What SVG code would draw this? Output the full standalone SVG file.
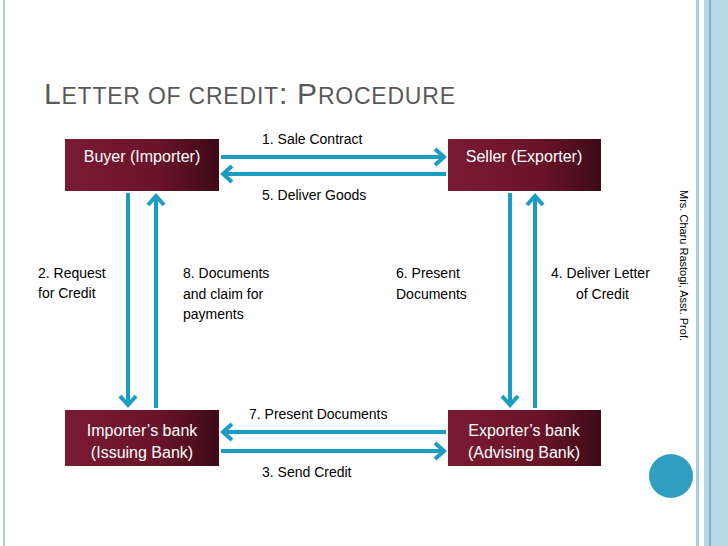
<svg xmlns="http://www.w3.org/2000/svg" width="728" height="546" viewBox="0 0 728 546">
<defs>
<linearGradient id="g" x1="0" y1="0" x2="1" y2="0"><stop offset="0" stop-color="#7a1b32"/><stop offset="0.6" stop-color="#6a1428"/><stop offset="1" stop-color="#3e0a18"/></linearGradient>
<marker id="a" viewBox="0 0 14 20" refX="11" refY="10" markerWidth="14" markerHeight="20" markerUnits="userSpaceOnUse" orient="auto"><path d="M2,2 L11,10 L2,18" fill="none" stroke="#1b9dc3" stroke-width="4"/></marker>
<style>
.box{fill:url(#g)}
.bt{font-family:"Liberation Sans",Arial,sans-serif;font-size:16px;fill:#fff;text-anchor:middle}
.lb{font-family:"Liberation Sans",Arial,sans-serif;font-size:14px;fill:#000}
.c{stroke:#1b9dc3;stroke-width:4;fill:none;marker-end:url(#a)}
</style>
</defs>
<rect width="728" height="546" fill="#fff"/>
<rect x="3" y="0" width="2" height="546" fill="#a8cde0"/>
<rect x="696" y="0" width="3" height="546" fill="#a8cde0"/>
<rect x="704" y="0" width="24" height="546" fill="#b7d6e6"/>
<rect x="709" y="0" width="2" height="546" fill="#7fb3cf"/>
<circle cx="671" cy="476" r="22" fill="#2f9fc1"/>
<text x="44" y="104" font-family="Liberation Sans,Arial,sans-serif" fill="#595959" font-size="30" textLength="411">L<tspan font-size="23">ETTER OF CREDIT</tspan>: P<tspan font-size="23">ROCEDURE</tspan></text>
<text transform="translate(680,190) rotate(90)" font-family="Liberation Sans,Arial,sans-serif" font-size="11" fill="#000">Mrs. Charu Rastogi, Asst. Prof.</text>
<g id="connectors">
<line class="c" x1="221" y1="157" x2="444" y2="157"/>
<line class="c" x1="446" y1="174" x2="223" y2="174"/>
<line class="c" x1="128" y1="193" x2="128" y2="405"/>
<line class="c" x1="156" y1="408" x2="156" y2="196"/>
<line class="c" x1="510" y1="193" x2="510" y2="405"/>
<line class="c" x1="535" y1="408" x2="535" y2="196"/>
<line class="c" x1="446" y1="432" x2="223" y2="432"/>
<line class="c" x1="221" y1="451" x2="444" y2="451"/>
</g>
<g id="buyer"><rect class="box" x="65" y="139" width="154" height="52"/><text class="bt" x="142" y="162">Buyer (Importer)</text></g>
<g id="seller"><rect class="box" x="448" y="139" width="153" height="52"/><text class="bt" x="524" y="162">Seller (Exporter)</text></g>
<g id="importer"><rect class="box" x="65" y="410" width="154" height="56"/><text class="bt" x="142" y="436">Importer’s bank</text><text class="bt" x="142" y="458">(Issuing Bank)</text></g>
<g id="exporter"><rect class="box" x="448" y="410" width="153" height="56"/><text class="bt" x="524" y="436">Exporter’s bank</text><text class="bt" x="524" y="458">(Advising Bank)</text></g>
<g id="labels">
<text class="lb" x="262" y="144">1. Sale Contract</text>
<text class="lb" x="262" y="200">5. Deliver Goods</text>
<text class="lb" x="38" y="278">2. Request</text><text class="lb" x="38" y="298">for Credit</text>
<text class="lb" x="183" y="278">8. Documents</text><text class="lb" x="183" y="299">and claim for</text><text class="lb" x="183" y="319">payments</text>
<text class="lb" x="396" y="278">6. Present</text><text class="lb" x="396" y="299">Documents</text>
<text class="lb" x="551" y="278">4. Deliver Letter</text><text class="lb" x="576" y="299">of Credit</text>
<text class="lb" x="249" y="419">7. Present Documents</text>
<text class="lb" x="262" y="477">3. Send Credit</text>
</g>
</svg>
